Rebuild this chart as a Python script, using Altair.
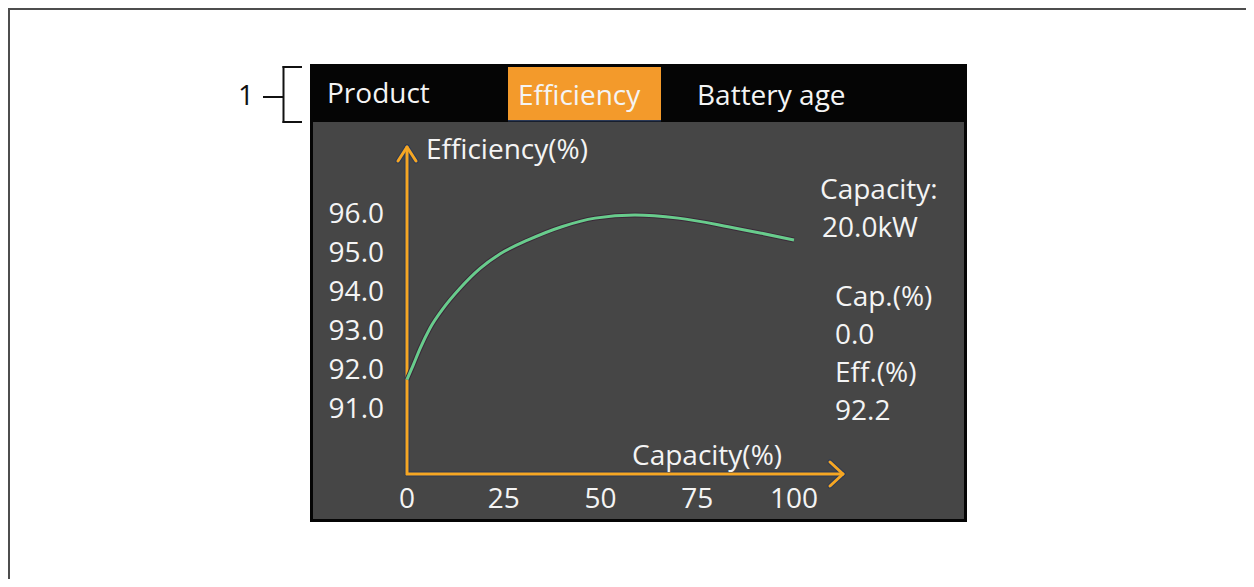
import altair as alt
import pandas as pd

# ---- data ----
capacity_pct = [0, 1.6, 3.4, 5.9, 9.4, 13.7, 18.9, 24.0, 31.3, 40, 48.6, 58.9, 70.1, 83, 91.7, 100]
efficiency_pct = [91.78, 92.15, 92.58, 93.09, 93.61, 94.12, 94.63, 95.0, 95.36, 95.70, 95.92, 96.0,
                  95.92, 95.70, 95.53, 95.36]
x_ticks = [0, 25, 50, 75, 100]
x_tick_labels = ["0", "25", "50", "75", "100"]
y_ticks = [96, 95, 94, 93, 92, 91]
y_tick_labels = ["96.0", "95.0", "94.0", "93.0", "92.0", "91.0"]
tabs = ["Product", "Efficiency", "Battery age"]
readouts = ["Capacity:", "20.0kW", "Cap.(%)", "0.0", "Eff.(%)", "92.2"]

FONT = "Open Sans"
FS = 28
WHITE = "#f4f4f4"
ORANGE = "#f5a623"
TAB = "#f39a2b"
NAVY = "#2a3957"
BODY = "#464646"

curve = pd.DataFrame({"cap": capacity_pct, "eff": efficiency_pct})
xt = pd.DataFrame({"v": x_ticks, "lab": x_tick_labels})
yt = pd.DataFrame({"v": y_ticks, "lab": y_tick_labels})

xs = alt.Scale(domain=[0, 100], range=[399, 786], nice=False, zero=False)
ys = alt.Scale(domain=[91, 96], range=[402, 207], nice=False, zero=False)

one = alt.Data(values=[{"a": 1}])


def rect(x1, x2, y1, y2, color):
    return alt.Chart(one).mark_rect(color=color, clip=False).encode(
        x=alt.value(x1), x2=alt.value(x2), y=alt.value(y1), y2=alt.value(y2))


def rule(x1, y1, x2, y2, color, w, cap="butt"):
    return alt.Chart(one).mark_rule(color=color, strokeWidth=w, strokeCap=cap, clip=False).encode(
        x=alt.value(x1), x2=alt.value(x2), y=alt.value(y1), y2=alt.value(y2))


def txt(s, x, y, color=WHITE, align="left", size=FS):
    return alt.Chart(one).mark_text(text=s, font=FONT, fontSize=size, color=color,
                                    align=align, baseline="middle", clip=False).encode(
        x=alt.value(x), y=alt.value(y))


layers = []
# outer document frame
layers.append(rect(0, 1238, 0, 2, "#4d4d4d"))
layers.append(rect(0, 2, 0, 571, "#4d4d4d"))
# device panel
layers.append(rect(302, 959, 56, 514, "#050505"))
layers.append(rect(305, 956, 114, 511, BODY))
layers.append(rect(500, 653, 59, 112, TAB))
layers.append(rect(500, 653, 112, 113.5, NAVY))
# bracket annotation
layers.append(txt("1", 238, 89, color="#111111", align="center"))
layers.append(rule(255, 89, 275, 89, "#111111", 2))
layers.append(rule(275.5, 58, 275.5, 115, "#111111", 2))
layers.append(rule(274.5, 59, 294, 59, "#111111", 2))
layers.append(rule(274.5, 114, 294, 114, "#111111", 2))
# tabs
layers.append(txt(tabs[0], 319, 87))
layers.append(txt(tabs[1], 510, 89))
layers.append(txt(tabs[2], 689, 89))

# axes with arrowheads
for c, w in [(NAVY, 5), (ORANGE, 3)]:
    layers.append(rule(399, 141, 399, 467, c, w))
    layers.append(rule(398, 466, 834, 466, c, w))
    layers.append(rule(399, 139, 390, 153, c, w, "round"))
    layers.append(rule(399, 139, 408, 153, c, w, "round"))
    layers.append(rule(835, 466, 822, 454, c, w, "round"))
    layers.append(rule(835, 466, 822, 478, c, w, "round"))

layers.append(txt("Efficiency(%)", 418, 143))
layers.append(txt("Capacity(%)", 624, 449))

# right readouts
layers.append(txt(readouts[0], 812, 183))
layers.append(txt(readouts[1], 814, 221))
layers.append(txt(readouts[2], 827, 290))
layers.append(txt(readouts[3], 827, 328))
layers.append(txt(readouts[4], 827, 366))
layers.append(txt(readouts[5], 827, 404))

# tick labels through the scales
layers.append(alt.Chart(xt).mark_text(font=FONT, fontSize=FS, color=WHITE, baseline="middle",
                                      align="center", clip=False).encode(
    x=alt.X("v:Q", scale=xs, axis=None), y=alt.value(492), text="lab:N"))
layers.append(alt.Chart(yt).mark_text(font=FONT, fontSize=FS, color=WHITE, baseline="middle",
                                      align="right", clip=False).encode(
    y=alt.Y("v:Q", scale=ys, axis=None), x=alt.value(376), text="lab:N"))

# efficiency curve
layers.append(alt.Chart(curve).mark_line(interpolate="monotone", color="#3a2838", strokeWidth=5,
                                         clip=False).encode(
    x=alt.X("cap:Q", scale=xs, axis=None), y=alt.Y("eff:Q", scale=ys, axis=None)))
layers.append(alt.Chart(curve).mark_line(interpolate="monotone", color="#68cc8c", strokeWidth=3,
                                         clip=False).encode(
    x=alt.X("cap:Q", scale=xs, axis=None), y=alt.Y("eff:Q", scale=ys, axis=None)))

chart = alt.layer(*layers).properties(
    width=1238, height=571, padding=0,
    autosize=alt.AutoSizeParams(type="none"),
    background="white",
).configure_view(stroke=None)

chart.save("out.html", embed_options={"renderer": "svg", "actions": False})
